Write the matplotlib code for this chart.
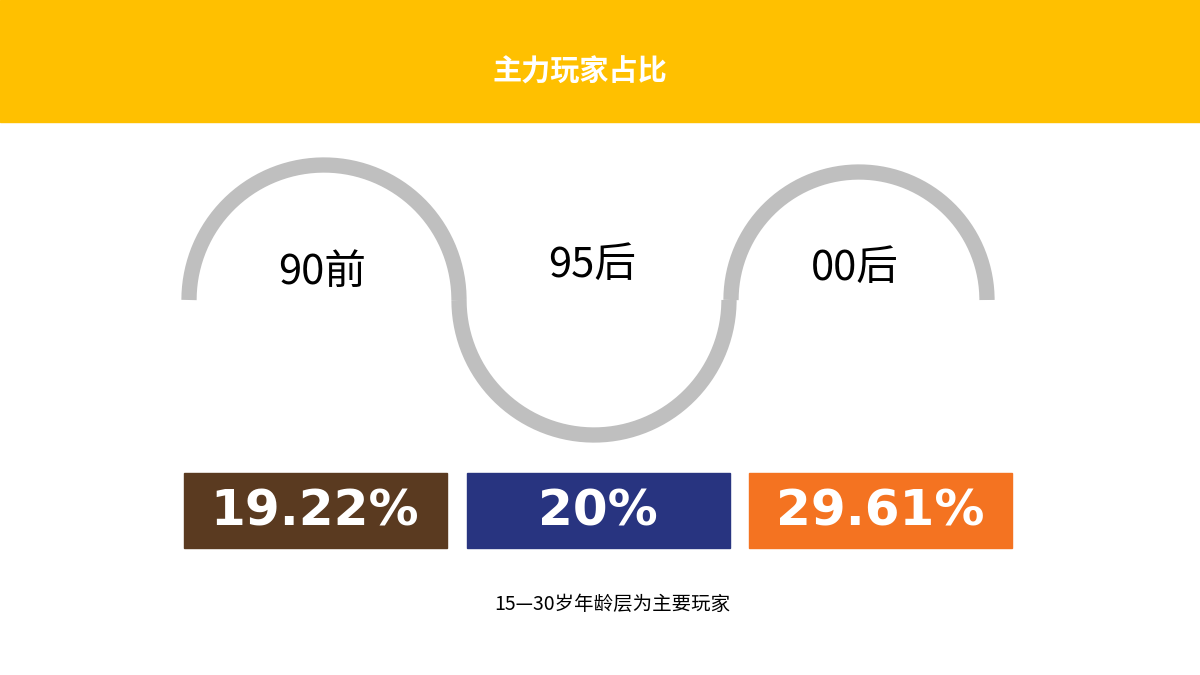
import numpy as np
import matplotlib.pyplot as plt
from matplotlib.patches import Rectangle

plt.rcParams['font.family'] = ['Noto Sans CJK SC', 'DejaVu Sans']

title = "主力玩家占比"
groups = ["90前", "95后", "00后"]
shares = ["19.22%", "20%", "29.61%"]
box_colors = ["#5A3A20", "#283480", "#F47321"]
caption = "15—30岁年龄层为主要玩家"

fig = plt.figure(figsize=(12, 6.75), dpi=100)
ax = fig.add_axes([0, 0, 1, 1])
ax.set_xlim(0, 1200)
ax.set_ylim(675, 0)
ax.axis('off')

# header band
ax.add_patch(Rectangle((0, 0), 1200, 122, color="#FFC000"))
ax.text(580, 72, title, color="white", fontsize=21, fontweight='bold',
        ha='center', va='center')

# wavy line made of three half circles
centers = [324, 594, 859]
r = 135
cy = 300
for i, cx in enumerate(centers):
    rr = r if i < 2 else 128
    t = np.linspace(np.pi, 0, 200)
    sign = -1 if i != 1 else 1
    ax.plot(cx + rr * np.cos(t), cy + sign * rr * np.sin(t),
            color="#BFBFBF", lw=11, solid_capstyle='butt')

label_pos = [(322, 272), (592, 265), (855, 268)]
for (x, y), g in zip(label_pos, groups):
    ax.text(x, y, g, fontsize=30, ha='center', va='center', color='black')

# value boxes
box_x = [184, 467, 749]
for x, s, c in zip(box_x, shares, box_colors):
    ax.add_patch(Rectangle((x, 473), 263, 75, color=c))
    ax.text(x + 131, 512, s, color='white', fontsize=36, fontweight='bold',
            ha='center', va='center',
            family=['Liberation Sans Narrow', 'DejaVu Sans'])

ax.text(612, 604, caption, fontsize=14, ha='center', va='center', color='black')

fig.savefig("out.png", dpi=100)
